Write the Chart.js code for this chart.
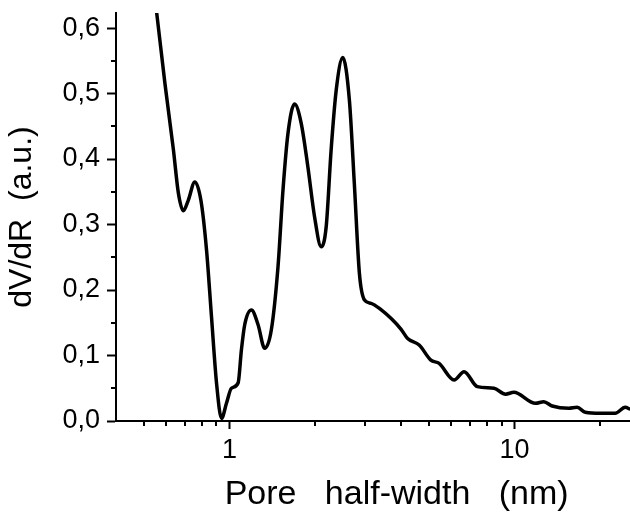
<!DOCTYPE html>
<html>
<head>
<meta charset="utf-8">
<script src="https://cdn.jsdelivr.net/npm/chart.js@4"></script>
<style>
  html, body { margin: 0; padding: 0; background: #fff; }
</style>
</head>
<body>
<canvas id="psd" width="630" height="512"></canvas>
<script>
// pore half-width (nm) vs dV/dR (a.u.)
const poreWidth = [0.533, 0.556, 0.594, 0.636, 0.662, 0.689, 0.717, 0.756, 0.794, 0.831,
  0.865, 0.901, 0.938, 0.976, 1.016, 1.073, 1.101, 1.131, 1.194, 1.260,
  1.329, 1.402, 1.480, 1.541, 1.604, 1.692, 1.785, 1.884, 1.988, 2.098,
  2.184, 2.273, 2.368, 2.497, 2.634, 2.741, 2.856, 2.976, 3.137, 3.400,
  3.700, 4.000, 4.215, 4.628, 5.085, 5.438, 6.135, 6.650, 7.405, 8.468,
  9.300, 9.940, 11.84, 12.66, 13.55, 15.49, 16.57, 17.71, 19.98, 22.55,
  24.44, 25.44];
const dVdR = [0.685, 0.622, 0.515, 0.414, 0.348, 0.321, 0.337, 0.365, 0.337, 0.261,
  0.159, 0.0575, 0.004, 0.027, 0.050, 0.0585, 0.108, 0.147, 0.1695, 0.147,
  0.111, 0.139, 0.2355, 0.353, 0.439, 0.484, 0.4545, 0.388, 0.312, 0.266,
  0.2966, 0.414, 0.505, 0.555, 0.490, 0.363, 0.2255, 0.1847, 0.1797, 0.170,
  0.156, 0.140, 0.126, 0.116, 0.093, 0.088, 0.0626, 0.0753, 0.0524, 0.0499,
  0.041, 0.0438, 0.027, 0.0295, 0.0229, 0.0194, 0.0209, 0.0133, 0.0118, 0.0118,
  0.0209, 0.0179];

const yMajorTicks = [0, 0.1, 0.2, 0.3, 0.4, 0.5, 0.6];
const yMinorTicks = [0.05, 0.15, 0.25, 0.35, 0.45, 0.55];
const xMajorTicks = [1, 10];
const xMinorTicks = [0.5, 0.6, 0.7, 0.8, 0.9, 2, 3, 4, 5, 6, 7, 8, 9, 20];

const FONT = "'Liberation Sans', Arial, sans-serif";

// short ticks between the labelled ones
const minorTicks = {
  id: 'minorTicks',
  afterDraw(chart) {
    const { ctx, scales: { x, y } } = chart;
    ctx.save();
    ctx.strokeStyle = '#000';
    ctx.lineWidth = 2;
    ctx.beginPath();
    xMinorTicks.forEach(v => {
      const px = Math.round(x.getPixelForValue(v));
      ctx.moveTo(px, x.top);
      ctx.lineTo(px, x.top + 5);
    });
    yMinorTicks.forEach(v => {
      const py = Math.round(y.getPixelForValue(v));
      ctx.moveTo(y.right, py);
      ctx.lineTo(y.right - 5, py);
    });
    ctx.stroke();
    ctx.restore();
  }
};

new Chart(document.getElementById('psd'), {
  type: 'line',
  data: {
    datasets: [{
      data: poreWidth.map((x, i) => ({ x, y: dVdR[i] })),
      borderColor: '#000',
      borderWidth: 3.5,
      pointRadius: 0,
      fill: false,
      cubicInterpolationMode: 'monotone',
      clip: 0
    }]
  },
  options: {
    responsive: false,
    animation: false,
    layout: { padding: { top: 13, right: 0, left: 0, bottom: 0 } },
    plugins: { legend: { display: false }, tooltip: { enabled: false } },
    scales: {
      x: {
        type: 'logarithmic',
        min: 0.4,
        max: 25.4,
        afterBuildTicks: s => { s.ticks = xMajorTicks.map(v => ({ value: v })); },
        afterFit: s => { s.height = 91; s.paddingLeft = 0; s.paddingRight = 0; },
        grid: { drawOnChartArea: false, tickLength: 8, tickWidth: 2, tickColor: '#000' },
        border: { display: true, color: '#000', width: 2 },
        ticks: {
          color: '#000',
          padding: 5,
          maxRotation: 0,
          font: { family: FONT, size: 27 },
          callback: v => String(v)
        },
        title: {
          display: true,
          // leading spaces push the centred title right, as in the figure
          text: '     Pore   half-width   (nm)',
          color: '#000',
          font: { family: FONT, size: 34, lineHeight: 1 },
          padding: { top: 0, bottom: 0 }
        }
      },
      y: {
        min: 0,
        max: 0.623,
        afterBuildTicks: s => { s.ticks = yMajorTicks.map(v => ({ value: v })); },
        afterFit: s => { s.width = 116; s.paddingTop = 0; s.paddingBottom = 0; },
        grid: { drawOnChartArea: false, tickLength: 9, tickWidth: 2, tickColor: '#000' },
        border: { display: true, color: '#000', width: 2 },
        ticks: {
          color: '#000',
          padding: 7,
          font: { family: FONT, size: 27 },
          callback: v => v.toFixed(1).replace('.', ',')
        },
        title: {
          display: true,
          text: 'dV/dR  (a.u.)',
          color: '#000',
          font: { family: FONT, size: 32, lineHeight: 1 },
          padding: { top: 6, bottom: 0 }
        }
      }
    }
  },
  plugins: [minorTicks]
});
</script>
</body>
</html>
